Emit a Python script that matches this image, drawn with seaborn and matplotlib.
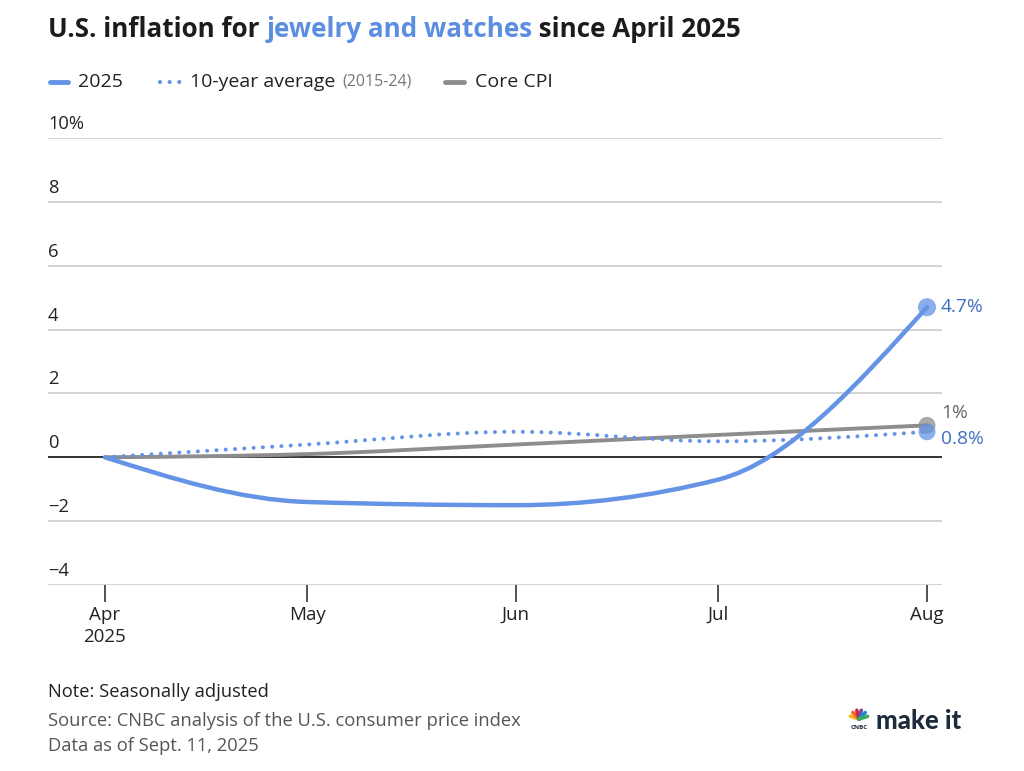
import numpy as np
import pandas as pd
import matplotlib
matplotlib.use("Agg")
import matplotlib.pyplot as plt
import matplotlib.dates as mdates
from matplotlib.path import Path
from matplotlib.patches import PathPatch
from matplotlib.lines import Line2D
import seaborn as sns

# ---------------- data ----------------
months = ["2025-04-01", "2025-05-01", "2025-06-01", "2025-07-01", "2025-08-01"]
month_labels = ["Apr\n2025", "May", "Jun", "Jul", "Aug"]
series_2025 = [0.0, -1.4, -1.5, -0.7, 4.7]
series_10yr = [0.0, 0.4, 0.8, 0.5, 0.8]
series_core = [0.0, 0.1, 0.4, 0.7, 1.0]
y_ticks = [-4, -2, 0, 2, 4, 6, 8, 10]
y_tick_labels = ["\u22124", "\u22122", "0", "2", "4", "6", "8", "10%"]
end_labels = ["4.7%", "0.8%", "1%"]

BLUE = "#6593e6"
BLUE_TXT = "#3f6fc0"
GRAY = "#8d8d8d"
GRAY_TXT = "#666666"
DARK = "#1c1c1c"

sns.set_theme(style="white")
plt.rcParams["font.family"] = ["Open Sans", "DejaVu Sans"]

W, H = 1024, 771
fig = plt.figure(figsize=(W / 100, H / 100), dpi=100)

def fx(px):
    return px / W

def fy(py):
    return 1 - py / H

x_dates = pd.to_datetime(months)
xn = mdates.date2num(x_dates)

# axes placement (pixels): left 48, right 942, top 138 (10), bottom 585 (-4)
ax = fig.add_axes([fx(48), fy(585), fx(942) - fx(48), fy(138) - fy(585)])
days_per_px = (xn[-1] - xn[0]) / (927 - 105)
ax.set_xlim(xn[0] - (105 - 48) * days_per_px, xn[-1] + (942 - 927) * days_per_px)
ax.set_ylim(-4, 10)

df = pd.DataFrame({"date": xn, "y2025": series_2025, "y10": series_10yr, "core": series_core})


def monotone_path(x, y):
    x = np.asarray(x, float)
    y = np.asarray(y, float)
    n = len(x)
    h = np.diff(x)
    s = np.diff(y) / h
    t = np.zeros(n)
    for i in range(1, n - 1):
        h0, h1, s0, s1 = h[i - 1], h[i], s[i - 1], s[i]
        p = (s0 * h1 + s1 * h0) / (h0 + h1)
        t[i] = (np.sign(s0) + np.sign(s1)) * min(abs(s0), abs(s1), 0.5 * abs(p))
    t[0] = (3 * s[0] - t[1]) / 2
    t[-1] = (3 * s[-1] - t[-2]) / 2
    verts = [(x[0], y[0])]
    codes = [Path.MOVETO]
    for i in range(n - 1):
        dx = (x[i + 1] - x[i]) / 3
        verts += [(x[i] + dx, y[i] + dx * t[i]), (x[i + 1] - dx, y[i + 1] - dx * t[i + 1]), (x[i + 1], y[i + 1])]
        codes += [Path.CURVE4] * 3
    return Path(verts, codes)


# gridlines
for v in y_ticks:
    if v == 0:
        continue
    ax.axhline(v, color="#d0d0d0", lw=1.3, zorder=0)
ax.axhline(0, color="#222222", lw=1.3, zorder=1)

# curves
ax.add_patch(PathPatch(monotone_path(df["date"], df["core"]), fill=False, edgecolor=GRAY,
                       lw=2.8, capstyle="round", zorder=3))
ax.add_patch(PathPatch(monotone_path(df["date"], df["y10"]), fill=False, edgecolor=BLUE,
                       lw=2.9, linestyle=(0, (0.01, 2.3)), capstyle="round", zorder=3))
ax.add_patch(PathPatch(monotone_path(df["date"], df["y2025"]), fill=False, edgecolor=BLUE,
                       lw=3.2, capstyle="round", zorder=4))

# end markers
last = df.iloc[[-1]]
sns.scatterplot(x=last["date"], y=last["core"], ax=ax, s=150, color=GRAY, alpha=0.75,
                edgecolor="none", zorder=5, legend=False)
sns.scatterplot(x=last["date"], y=last["y10"], ax=ax, s=150, color=BLUE, alpha=0.75,
                edgecolor="none", zorder=5, legend=False)
sns.scatterplot(x=last["date"], y=last["y2025"], ax=ax, s=170, color=BLUE, alpha=0.75,
                edgecolor="none", zorder=6, legend=False)

# end labels
xe = xn[-1]
off = 14 * days_per_px
ax.text(xe + off, series_2025[-1], end_labels[0], color=BLUE_TXT, fontsize=13.8, va="center", ha="left", clip_on=False)
ax.text(xe + off, series_10yr[-1] - 0.22, end_labels[1], color=BLUE_TXT, fontsize=13.8, va="center", ha="left", clip_on=False)
ax.text(xe + off, series_core[-1] + 0.38, end_labels[2], color=GRAY_TXT, fontsize=13.8, va="center", ha="left", clip_on=False)

# axes styling
for sp in ax.spines.values():
    sp.set_visible(False)
ax.set_yticks(y_ticks)
ax.set_yticklabels([])
ax.tick_params(axis="y", length=0)
for v, lab in zip(y_ticks, y_tick_labels):
    ax.annotate(lab, xy=(0, v), xycoords=("axes fraction", "data"), xytext=(0, 5),
                textcoords="offset pixels", ha="left", va="bottom", fontsize=13.2, color="#222222")
ax.set_xticks(xn)
ax.set_xticklabels(month_labels, fontsize=13.5, color="#222222", linespacing=1.3)
ax.tick_params(axis="x", length=12, width=1.2, color="#333333", pad=3, bottom=True)
ax.set_xlabel("")
ax.set_ylabel("")

# title
fig.canvas.draw()
r = fig.canvas.get_renderer()
parts = [("U.S. inflation for ", DARK), ("jewelry and watches", "#5b8de0"), (" since April 2025", DARK)]
xpos = 48
for txt, col in parts:
    t = fig.text(fx(xpos), fy(37), txt, fontsize=18.7, fontweight="bold", color=col, ha="left", va="baseline")
    bb = t.get_window_extent(renderer=r)
    xpos += bb.width

# legend
ly = 82
fig.add_artist(Line2D([fx(50), fx(68)], [fy(ly), fy(ly)], color=BLUE, lw=3.5, solid_capstyle="round"))
fig.text(fx(78), fy(ly), "2025", fontsize=14, color="#222222", va="center", ha="left")
fig.add_artist(Line2D([fx(160), fx(182)], [fy(ly), fy(ly)], color=BLUE, lw=3, linestyle=(0, (0.01, 2.3)),
                      dash_capstyle="round"))
t = fig.text(fx(190), fy(ly), "10-year average", fontsize=14, color="#222222", va="center", ha="left")
bb = t.get_window_extent(renderer=r)
fig.text(fx(190 + bb.width + 7), fy(ly), "(2015-24)", fontsize=11.5, color="#777777", va="center", ha="left")
fig.add_artist(Line2D([fx(445), fx(464)], [fy(ly), fy(ly)], color=GRAY, lw=3.5, solid_capstyle="round"))
fig.text(fx(475), fy(ly), "Core CPI", fontsize=14, color="#222222", va="center", ha="left")

# footer
fig.text(fx(48), fy(692), "Note: Seasonally adjusted", fontsize=13.2, color="#222222", va="center", ha="left")
fig.text(fx(48), fy(721), "Source: CNBC analysis of the U.S. consumer price index", fontsize=13.2, color="#555555",
         va="center", ha="left")
fig.text(fx(48), fy(746), "Data as of Sept. 11, 2025", fontsize=13.2, color="#555555", va="center", ha="left")

# logo
fig.text(fx(876), fy(729), "make it", fontsize=18.5, fontweight="black", color="#1d2b3a", va="baseline", ha="left",
         family=["Lato", "DejaVu Sans"])
fig.text(fx(859), fy(729), "CNBC", fontsize=4.5, fontweight="bold", color="#1d2b3a", va="baseline", ha="center")
peacock = ["#f7b71d", "#ef6b22", "#d6213f", "#6d4c9f", "#1b8ad3", "#3bab5b"]
for i, c in enumerate(peacock):
    ang = np.deg2rad(180 - 18 - i * 29)
    cxp, cyp = 859, 719
    fig.add_artist(Line2D([fx(cxp), fx(cxp + 9 * np.cos(ang))], [fy(cyp), fy(cyp - 9 * np.sin(ang))],
                          color=c, lw=2.6, solid_capstyle="round"))

fig.savefig("out.png", dpi=100)
